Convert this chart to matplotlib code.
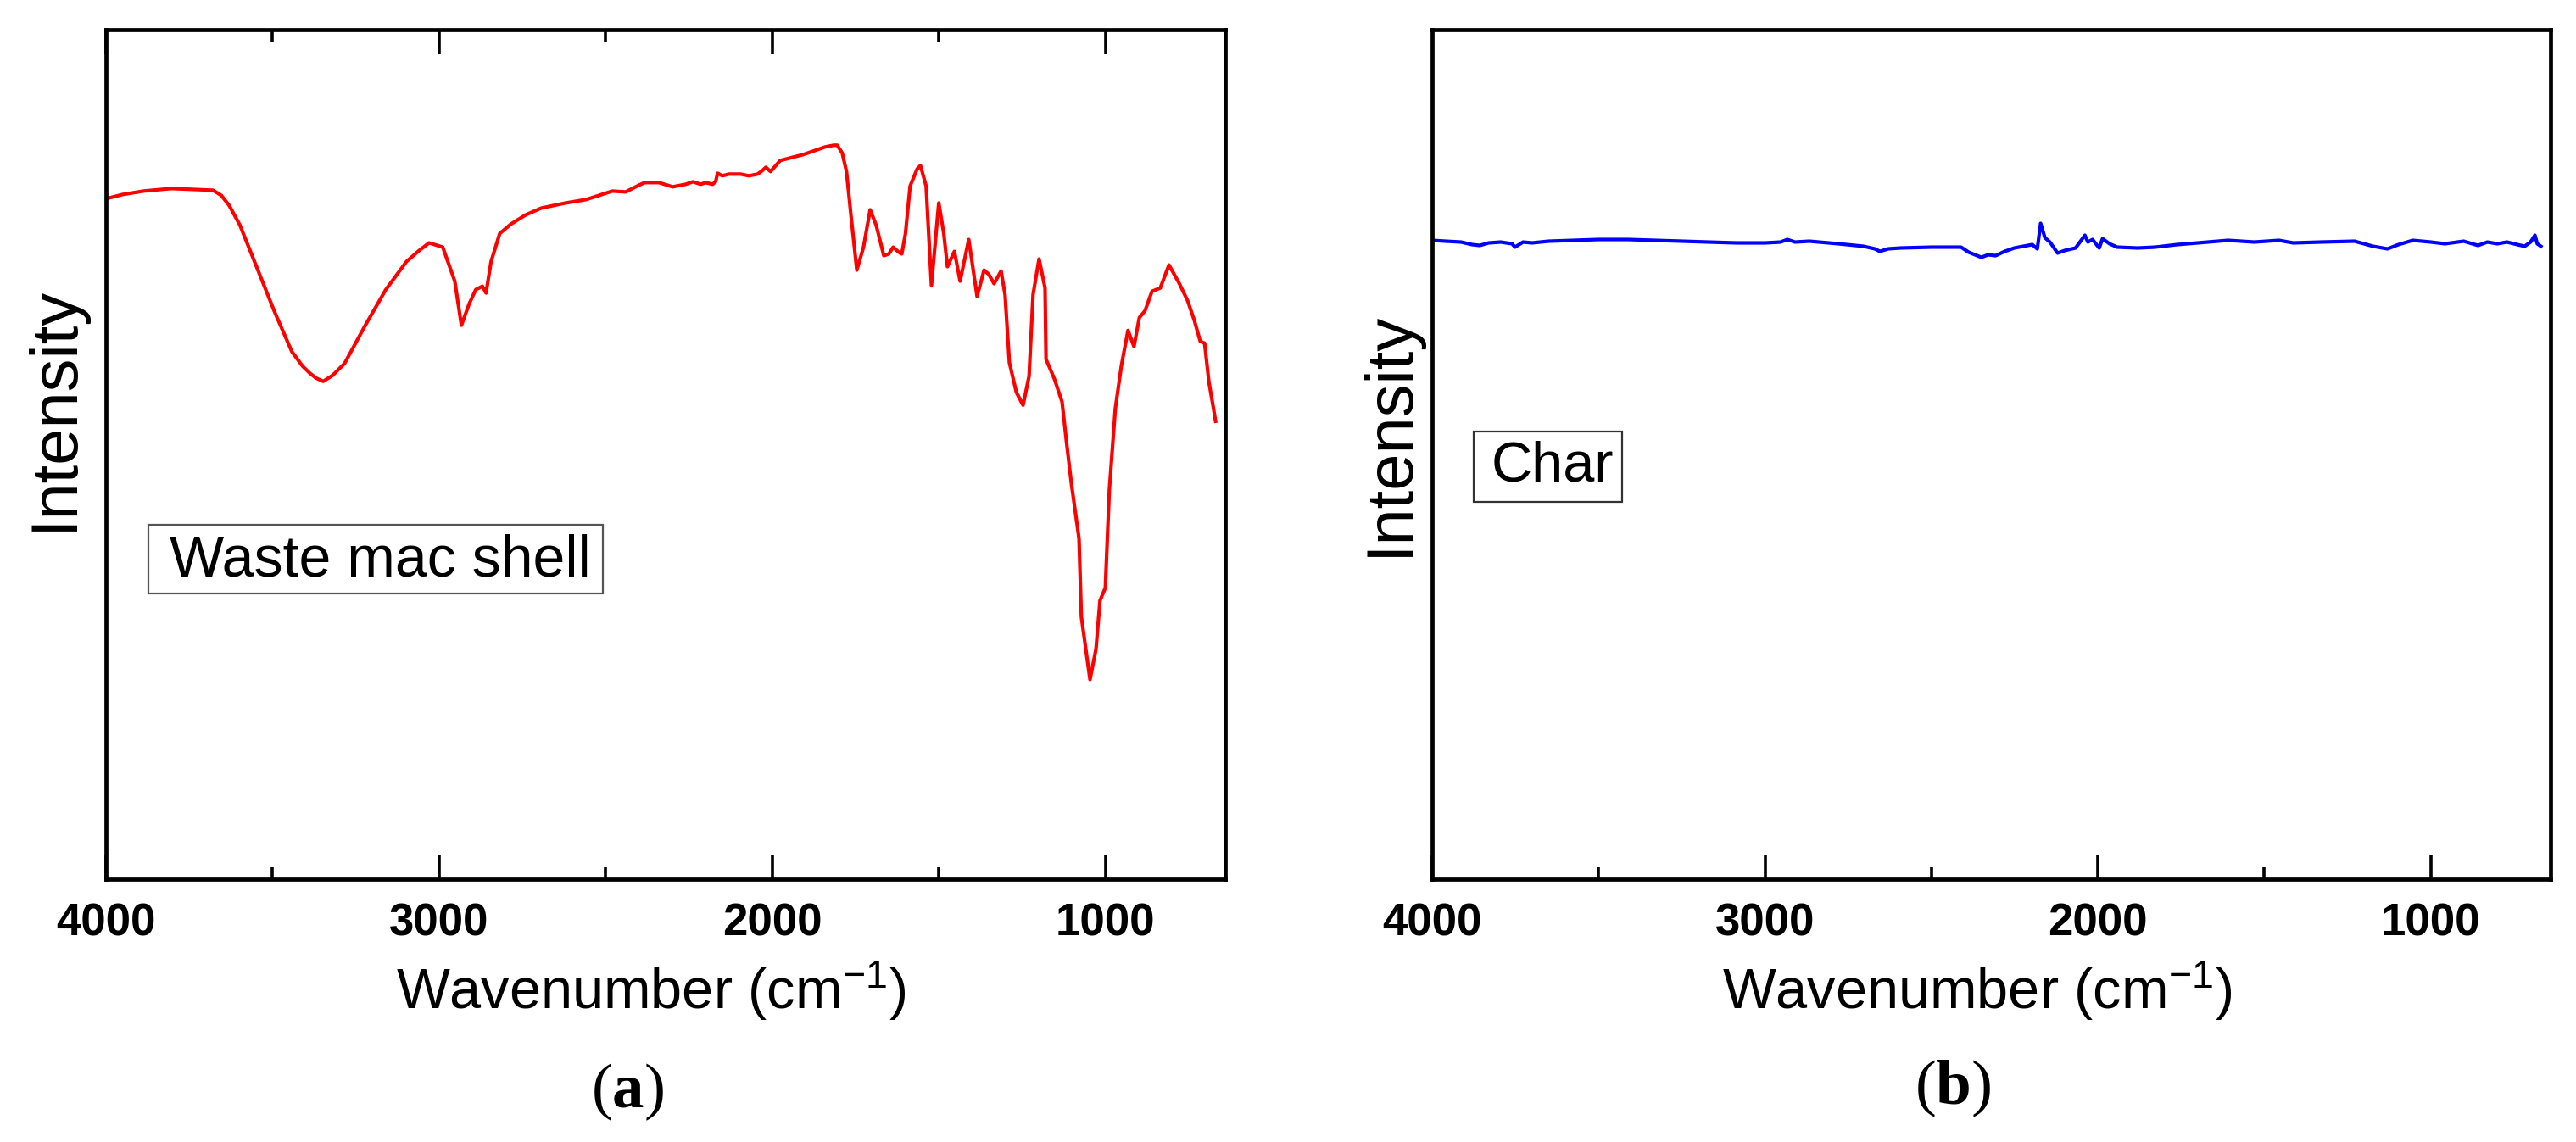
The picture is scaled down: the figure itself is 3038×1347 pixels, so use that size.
import matplotlib
matplotlib.use("Agg")
import matplotlib.pyplot as plt
from matplotlib.patches import Rectangle

plt.rcParams['font.family'] = ['Liberation Sans', 'DejaVu Sans']
plt.rcParams['mathtext.fontset'] = 'custom'
plt.rcParams['mathtext.rm'] = 'Liberation Sans'
plt.rcParams['mathtext.it'] = 'Liberation Sans:italic'
plt.rcParams['mathtext.bf'] = 'Liberation Serif:bold'
plt.rcParams['xtick.direction'] = 'in'
plt.rcParams['xtick.major.size'] = 21
plt.rcParams['xtick.major.width'] = 2.6
plt.rcParams['xtick.minor.size'] = 10
plt.rcParams['xtick.minor.width'] = 2.6
plt.rcParams['xtick.major.pad'] = 20
plt.rcParams['xtick.labelsize'] = 38
plt.rcParams['xtick.color'] = 'black'
plt.rcParams['axes.linewidth'] = 3.4

# ---------------- data ----------------
wn_a = [4000, 3950, 3888, 3804, 3740, 3679, 3654, 3630, 3598, 3544, 3493, 3442,
        3410, 3389, 3370, 3348, 3320, 3284, 3223, 3160, 3098, 3060, 3030, 2989,
        2953, 2933, 2910, 2890, 2870, 2859, 2844, 2818, 2785, 2740, 2693, 2620,
        2559, 2480, 2440, 2400, 2383, 2340, 2299, 2260, 2238, 2215, 2200, 2179,
        2170, 2164, 2150, 2130, 2095, 2070, 2044, 2030, 2019, 2005, 1976, 1907,
        1841, 1815, 1805, 1790, 1777, 1764, 1746, 1726, 1706, 1688, 1665, 1650,
        1637, 1620, 1611, 1600, 1586, 1565, 1555, 1538, 1522, 1500, 1485, 1474,
        1453, 1436, 1410, 1385, 1364, 1350, 1334, 1313, 1301, 1288, 1267, 1247,
        1229, 1217, 1199, 1181, 1178, 1153, 1130, 1117, 1102, 1079, 1072, 1046,
        1028, 1016, 1000, 988, 970, 952, 932, 914, 898, 881, 860, 835, 809, 779,
        753, 733, 715, 702, 689, 677, 669]
int_a = [80.1, 80.6, 81.0, 81.3, 81.2, 81.1, 80.5, 79.3, 77.0, 71.7, 66.7, 62.1,
         60.4, 59.6, 59.0, 58.6, 59.3, 60.7, 65.1, 69.4, 72.7, 74.0, 74.9, 74.4,
         70.4, 65.2, 67.7, 69.4, 69.8, 69.0, 72.7, 76.0, 77.1, 78.2, 79.0, 79.6,
         80.0, 81.0, 80.9, 81.7, 82.0, 82.0, 81.5, 81.8, 82.1, 81.8, 82.0, 81.8,
         82.1, 83.1, 82.8, 83.0, 83.0, 82.8, 83.0, 83.4, 83.8, 83.3, 84.6, 85.3,
         86.2, 86.4, 86.4, 85.5, 83.3, 78.3, 71.7, 74.4, 78.8, 77.0, 73.4, 73.6,
         74.4, 73.8, 73.6, 76.0, 81.6, 83.6, 84.0, 81.6, 69.9, 79.6, 76.0, 72.1,
         73.9, 70.4, 75.3, 68.6, 71.7, 71.2, 70.1, 71.6, 68.8, 60.8, 57.3, 55.8,
         59.2, 68.8, 73.0, 69.6, 61.2, 58.9, 56.2, 51.6, 46.6, 40.1, 30.9, 23.5,
         27.1, 32.8, 34.3, 45.8, 55.4, 60.4, 64.6, 62.7, 66.1, 66.9, 69.2, 69.6,
         72.3, 70.2, 68.1, 65.8, 63.3, 63.1, 58.5, 55.8, 53.9]

wn_b = [4000, 3960, 3913, 3880, 3857, 3830, 3794, 3760, 3751, 3727, 3700, 3650,
        3575, 3500, 3412, 3330, 3249, 3170, 3086, 3000, 2953, 2933, 2910, 2867,
        2780, 2704, 2670, 2655, 2630, 2594, 2500, 2411, 2388, 2350, 2330, 2307,
        2280, 2251, 2197, 2182, 2172, 2159, 2144, 2121, 2100, 2067, 2039, 2030,
        2016, 1996, 1986, 1965, 1942, 1880, 1828, 1762, 1700, 1609, 1530, 1456,
        1413, 1330, 1229, 1173, 1130, 1097, 1054, 1000, 957, 901, 858, 830, 800,
        771, 740, 718, 700, 687, 680, 669]
int_b = [75.2, 75.1, 75.0, 74.7, 74.6, 74.9, 75.0, 74.8, 74.4, 75.0, 74.9, 75.1,
         75.2, 75.3, 75.3, 75.2, 75.1, 75.0, 74.9, 74.9, 75.0, 75.3, 75.0, 75.1,
         74.8, 74.5, 74.2, 73.9, 74.2, 74.3, 74.4, 74.4, 73.8, 73.2, 73.5, 73.4,
         73.9, 74.3, 74.7, 74.2, 77.2, 75.5, 75.0, 73.7, 74.0, 74.3, 75.8, 75.0,
         75.3, 74.3, 75.4, 74.8, 74.4, 74.3, 74.4, 74.7, 74.9, 75.2, 75.0, 75.2,
         74.9, 75.0, 75.1, 74.5, 74.2, 74.7, 75.2, 75.0, 74.8, 75.1, 74.6, 75.0,
         74.8, 75.0, 74.7, 74.5, 75.0, 75.8, 74.8, 74.5]

major_ticks = [4000, 3000, 2000, 1000]
minor_ticks = [3500, 2500, 1500]
tick_labels = ['4000', '3000', '2000', '1000']
xlabel = 'Wavenumber (cm$^{\\mathregular{-1}}$)'
ylabel = 'Intensity'
box_a = 'Waste mac shell'
box_b = 'Char'

# ---------------- figure ----------------
W, H = 3038, 1347
fig = plt.figure(figsize=(W / 100, H / 100), dpi=100)

def px_axes(x0, x1, y0, y1):
    return [x0 / W, (H - y1) / H, (x1 - x0) / W, (y1 - y0) / H]

ax_a = fig.add_axes(px_axes(125, 1445, 35, 1037))
ax_b = fig.add_axes(px_axes(1689, 3008, 35, 1037))

ax_a.plot(wn_a, int_a, color='#ff0000', lw=3.0, solid_joinstyle='round')
ax_b.plot(wn_b, int_b, color='#0000ff', lw=3.0, solid_joinstyle='round')

for ax, top in ((ax_a, True), (ax_b, False)):
    ax.set_xlim(4000, 640)
    ax.set_ylim(0, 100)
    ax.set_xticks(major_ticks, labels=tick_labels)
    ax.set_xticks(minor_ticks, minor=True)
    ax.set_yticks([])
    ax.tick_params(axis='x', which='both', top=top, bottom=True)
    for lab in ax.get_xticklabels():
        lab.set_fontweight('bold')
    ax.set_xlabel(xlabel, fontsize=48)
    ax.xaxis.set_label_coords(0.487, -0.131)
    ax.xaxis.label.set_verticalalignment('center')
    ax.set_ylabel(ylabel, fontsize=56)

ax_a.yaxis.set_label_coords(-0.046, 0.555)
ax_a.yaxis.label.set_verticalalignment('center')
ax_b.yaxis.set_label_coords(-0.038, 0.525)
ax_b.yaxis.label.set_verticalalignment('center')

# label boxes
ax_a.add_patch(Rectangle((0.0379, 0.336), 0.406, 0.0808, transform=ax_a.transAxes,
                         facecolor='white', edgecolor='#555555', lw=1.6, zorder=3))
ax_a.text(0.245, 0.375, box_a, transform=ax_a.transAxes, fontsize=49,
          ha='center', va='center', zorder=4)
ax_b.add_patch(Rectangle((0.0371, 0.444), 0.1327, 0.0828, transform=ax_b.transAxes,
                         facecolor='white', edgecolor='#333333', lw=1.6, zorder=3))
ax_b.text(0.1077, 0.486, box_b, transform=ax_b.transAxes, fontsize=48,
          ha='center', va='center', zorder=4)

# panel labels
fig.text(740 / W, 1 - 1288 / H, '($\\mathbf{a}$)', fontsize=54, ha='center', va='center',
         family=['Liberation Serif'])
fig.text(2303 / W, 1 - 1284 / H, '($\\mathbf{b}$)', fontsize=54, ha='center', va='center',
         family=['Liberation Serif'])

fig.savefig('out.png', dpi=100, facecolor='white')
